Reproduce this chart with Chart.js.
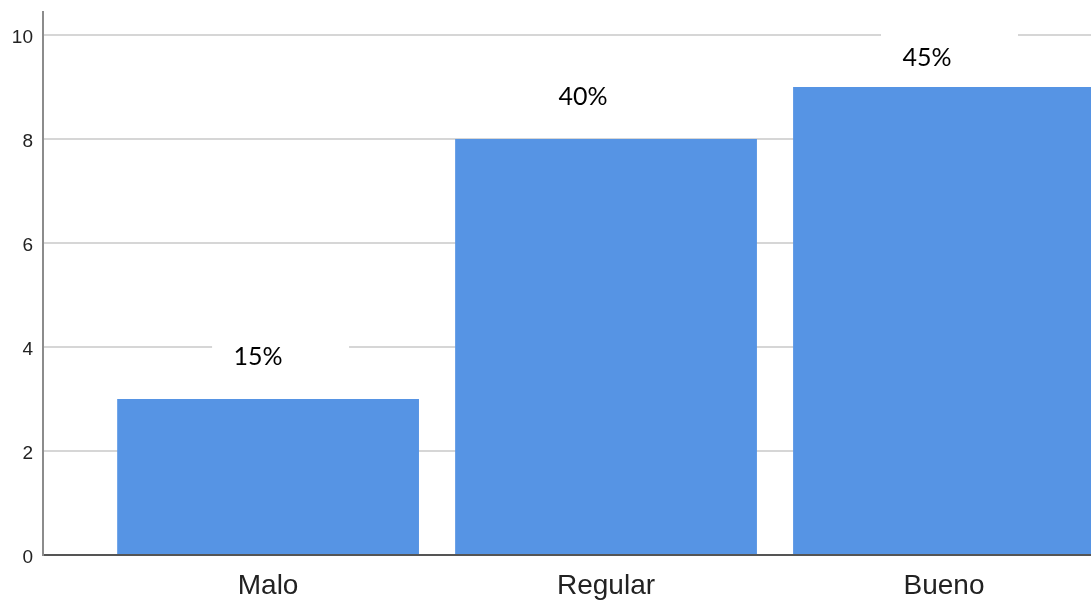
<!DOCTYPE html>
<html>
<head>
<meta charset="utf-8">
<script src="https://cdn.jsdelivr.net/npm/chart.js@4"></script>
<style>
  body { margin: 0; background: #fff; }
  #wrap { width: 1091px; height: 601px; }
</style>
</head>
<body>
<div id="wrap"><canvas id="myChart" width="1091" height="601"></canvas></div>
<script>
const categories = ["Malo", "Regular", "Bueno"];
const counts = [3, 8, 9];
const percentLabels = ["15%", "40%", "45%"];
const yTicks = [0, 2, 4, 6, 8, 10];

// labels above the bars, on a white box that hides the grid behind them
const percentPlugin = {
  id: "percentLabels",
  beforeDatasetsDraw(chart, args, opts) {
    const ctx = chart.ctx;
    const meta = chart.getDatasetMeta(0);
    ctx.save();
    ctx.fillStyle = "#fff";
    meta.data.forEach((bar, i) => {
      const cx = bar.x + opts.dx[i];
      const cy = bar.y - opts.dy[i];
      ctx.fillRect(cx - 46, cy - 28, 137, 50);
    });
    ctx.restore();
  },
  afterDatasetsDraw(chart, args, opts) {
    const ctx = chart.ctx;
    const meta = chart.getDatasetMeta(0);
    ctx.save();
    ctx.fillStyle = "#000";
    ctx.font = "25px Lato";
    ctx.textAlign = "center";
    ctx.textBaseline = "middle";
    meta.data.forEach((bar, i) => {
      ctx.fillText(percentLabels[i], bar.x + opts.dx[i], bar.y - opts.dy[i]);
    });
    ctx.restore();
  }
};

const ctx = document.getElementById("myChart").getContext("2d");

const data = {
  datasets: [
    {
      label: "Frecuencia",
      data: counts.map((v, i) => ({ x: i + 1, y: v })),
      backgroundColor: "#5694e4",
      borderWidth: 0,
      barPercentage: 1,
      categoryPercentage: 0.893,
    },
  ],
};

const config = {
  type: "bar",
  data: data,
  plugins: [percentPlugin],
  options: {
    responsive: false,
    animation: false,
    layout: { padding: { top: 12, right: 0, left: 0, bottom: 0 } },
    plugins: {
      legend: { display: false },
      tooltip: { enabled: false },
      percentLabels: { dx: [-10, -23, -17], dy: [42, 42, 29] },
    },
    scales: {
      x: {
        type: "linear",
        offset: false,
        min: 0.334,
        max: 3.435,
        grid: { display: false, offset: false },
        border: { display: true, color: "#555", width: 2 },
        afterBuildTicks: (axis) => {
          axis.ticks = categories.map((c, i) => ({ value: i + 1 }));
        },
        afterFit: (axis) => {
          axis.height = 46;
          axis.paddingLeft = 0;
          axis.paddingRight = 0;
        },
        ticks: {
          padding: 6,
          color: "#222",
          font: { family: "Liberation Sans", size: 28 },
          callback: (v) => categories[v - 1],
        },
      },
      y: {
        min: 0,
        max: 10.44,
        grid: { color: "#d6d6d6", lineWidth: 2, drawTicks: false },
        border: { display: true, color: "#8c8c8c", width: 2 },
        afterBuildTicks: (axis) => {
          axis.ticks = yTicks.map((v) => ({ value: v }));
        },
        afterFit: (axis) => {
          axis.width = 43;
          axis.paddingTop = 0;
          axis.paddingBottom = 0;
        },
        ticks: {
          padding: 10,
          labelOffset: 3,
          color: "#222",
          font: { family: "Liberation Sans", size: 19 },
        },
      },
    },
  },
};

new Chart(ctx, config);
</script>
</body>
</html>
